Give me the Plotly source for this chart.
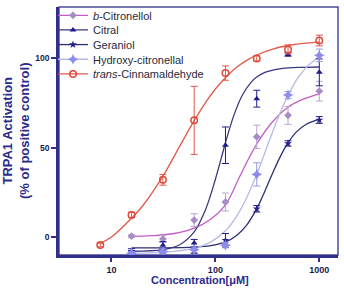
import plotly.graph_objects as go

# ---------------- data ----------------
conc = [15.6, 31.25, 62.5, 125, 250, 500, 1000]
conc_cin = [7.8, 15.6, 31.25, 62.5, 125, 250, 500, 1000]

citronellol_mean = [0.5, -1, 9.5, 19.6, 56, 68, 81.5]
citronellol_err = [0.8, 2, 3.5, 5, 6.5, 5, 5.5]
citral_mean = [-8, -4.5, -3.3, 51.3, 77.3, 102, 92]
citral_err = [1.5, 2, 2, 10.2, 4.7, 1, 7.5]
geraniol_mean = [-8.5, -8, -7.5, -1.8, 15.8, 52.3, 65.4]
geraniol_err = [1, 1.5, 1.5, 3.8, 1.8, 1.5, 1.9]
hydroxy_mean = [-9, -8, -7, -4.5, 35, 79.3, 101.5]
hydroxy_err = [1, 1.5, 1.5, 1.5, 6.5, 2, 3.5]
cinnam_mean = [-4.4, 12.4, 32, 65.2, 91.6, 99.8, 104.8, 109.8]
cinnam_err = [1, 1.5, 3, 19, 4, 1.5, 2.5, 3]

# fitted dose-response curves
citronellol_fit_x = [15.6, 25, 40, 62.5, 90, 125, 172, 210, 250, 350, 500, 700, 1000]
citronellol_fit_y = [0.4, 0.8, 2, 5, 10, 18, 34, 44, 52, 64, 72.5, 77, 80]
citral_fit_x = [15.6, 31.25, 45, 62.5, 80, 100, 125, 150, 180, 220, 250, 300, 400, 500, 700, 1000]
citral_fit_y = [-7.9, -7.0, -4.4, 2.9, 15, 32.3, 52.7, 67.7, 78.8, 86.4, 89.4, 92, 93.8, 94.5, 94.8, 95]
geraniol_fit_x = [15.6, 31.25, 62.5, 90, 125, 160, 200, 250, 300, 350, 420, 500, 600, 750, 1000]
geraniol_fit_y = [-6, -6, -5.6, -4.8, -2.7, 0.9, 6.7, 15.9, 25.8, 34.8, 44.8, 52.6, 58.6, 63, 65.9]
hydroxy_fit_x = [15.6, 31.25, 62.5, 90, 125, 160, 200, 250, 300, 350, 420, 500, 600, 750, 1000]
hydroxy_fit_y = [-8.9, -8.5, -6.3, -2.8, 3.5, 11.6, 22, 35.1, 47.3, 57.7, 69.4, 79.1, 87.5, 94.8, 100.8]
cinnam_fit_x = [7.8, 10, 15.6, 20, 31.25, 45, 62.5, 80, 100, 125, 160, 200, 250, 350, 500, 700, 1000]
cinnam_fit_y = [-3.5, 0, 10.5, 17.5, 34, 50.4, 65, 75, 82.7, 89, 94.8, 98.7, 101.7, 104.9, 107, 108.2, 108.9]

series_names = ["<i>b</i>-Citronellol", "Citral", "Geraniol", "Hydroxy-citronellal",
                "<i>trans</i>-Cinnamaldehyde"]
y_ticks = [0, 50, 100]
x_ticks = [10, 100, 1000]

# ---------------- styles ----------------
FONT = "Liberation Sans, Arial, sans-serif"
AXIS = "#30308a"
TITLE = "#2b2b8c"
styles = [
    dict(sym="diamond", mcol="#a88cc4", ecol="#b9a5cf", lcol="#c45cc6", size=6),
    dict(sym="triangle-up", mcol="#1c1c8e", ecol="#1c1c8e", lcol="#3a3a82", size=6),
    dict(sym="star", mcol="#22228a", ecol="#22228a", lcol="#2e2e78", size=6),
    dict(sym="star-diamond", mcol="#8c8cec", ecol="#9a9ae0", lcol="#b8b8e6", size=8),
    dict(sym="circle-open", mcol="#e0483a", ecol="#e0584a", lcol="#e05a4a", size=6.5),
]
fits = [(citronellol_fit_x, citronellol_fit_y), (citral_fit_x, citral_fit_y),
        (geraniol_fit_x, geraniol_fit_y), (hydroxy_fit_x, hydroxy_fit_y),
        (cinnam_fit_x, cinnam_fit_y)]
points = [(conc, citronellol_mean, citronellol_err), (conc, citral_mean, citral_err),
          (conc, geraniol_mean, geraniol_err), (conc, hydroxy_mean, hydroxy_err),
          (conc_cin, cinnam_mean, cinnam_err)]

fig = go.Figure()
for (fx, fy), st in zip(fits, styles):
    fig.add_trace(go.Scatter(x=fx, y=fy, mode="lines", showlegend=False,
                             line=dict(color=st["lcol"], width=1.3, shape="spline", smoothing=1.0),
                             hoverinfo="skip"))
for (px_, py_, pe), st in zip(points, styles):
    mk = dict(symbol=st["sym"], color=st["mcol"], size=st["size"])
    if st["sym"] == "circle-open":
        mk["line"] = dict(color=st["mcol"], width=1.5)
    fig.add_trace(go.Scatter(x=px_, y=py_, mode="markers", showlegend=False, marker=mk,
                             error_y=dict(type="data", array=pe, visible=True,
                                          color=st["ecol"], thickness=1, width=3.5)))

# legend entries (one legend per row so the row spacing matches)
PLOT_TOP, PLOT_BOTTOM = 1, 255
ROW0, ROWDY = 9.5, 15
LEG_X_PX, PLOT_LEFT, PLOT_W = 53, 59, 279
legends = {}
for i, (name, st) in enumerate(zip(series_names, styles)):
    key = "legend" if i == 0 else f"legend{i+1}"
    mk = dict(symbol=st["sym"], color=st["mcol"], size=st["size"])
    if st["sym"] == "circle-open":
        mk["line"] = dict(color=st["mcol"], width=1.5)
    fig.add_trace(go.Scatter(x=[None], y=[None], mode="lines+markers", name=name,
                             legend=key, marker=mk,
                             line=dict(color=st["lcol"], width=1.3)))
    row_px = ROW0 + i * ROWDY
    legends[key] = dict(x=(LEG_X_PX - PLOT_LEFT) / PLOT_W, xanchor="left",
                        y=(PLOT_BOTTOM - row_px) / (PLOT_BOTTOM - PLOT_TOP), yanchor="middle",
                        bgcolor="rgba(0,0,0,0)", borderwidth=0,
                        font=dict(family=FONT, size=11, color="#2a2a3a"),
                        itemwidth=30, tracegroupgap=0)

fig.update_layout(
    width=344, height=290,
    margin=dict(l=59, r=6, t=1, b=35),
    paper_bgcolor="white", plot_bgcolor="white",
    font=dict(family=FONT),
    **legends,
    xaxis=dict(type="log", range=[0.495, 3.18], tickvals=x_ticks, ticktext=[str(v) for v in x_ticks],
               showgrid=False, zeroline=False, showline=True, linecolor=AXIS, linewidth=2.5,
               ticks="outside", ticklen=4, tickwidth=1.5, tickcolor=AXIS,
               tickfont=dict(family=FONT, size=9, color="#1a1a4a", weight="bold")),
    yaxis=dict(range=[-10, 128.5], tickvals=y_ticks, ticktext=[str(v) for v in y_ticks],
               showgrid=False, zeroline=False, showline=True, linecolor=AXIS, linewidth=2.5,
               ticks="outside", ticklen=5, tickwidth=1.5, tickcolor=AXIS,
               tickfont=dict(family=FONT, size=8.5, color="#1a1a4a", weight="bold")),
    shapes=[dict(type="rect", xref="paper", yref="paper", x0=0, x1=1, y0=0, y1=1,
                 line=dict(color="#4b4b9b", width=1.5), layer="below")],
    annotations=[
        dict(text="<b>TRPA1 Activation<br>(% of positive control)</b>", textangle=-90,
             xref="paper", yref="paper", x=(16 - PLOT_LEFT) / PLOT_W, y=0.5,
             xanchor="center", yanchor="middle", showarrow=False,
             font=dict(family=FONT, size=13, color=TITLE)),
        dict(text="<b>Concentration[μM]</b>", xref="paper", yref="paper",
             x=(199.5 - PLOT_LEFT) / PLOT_W, y=(PLOT_BOTTOM - 281) / (PLOT_BOTTOM - PLOT_TOP),
             xanchor="center", yanchor="middle", showarrow=False,
             font=dict(family=FONT, size=11, color=TITLE)),
    ],
)

fig.write_html("out.html")
